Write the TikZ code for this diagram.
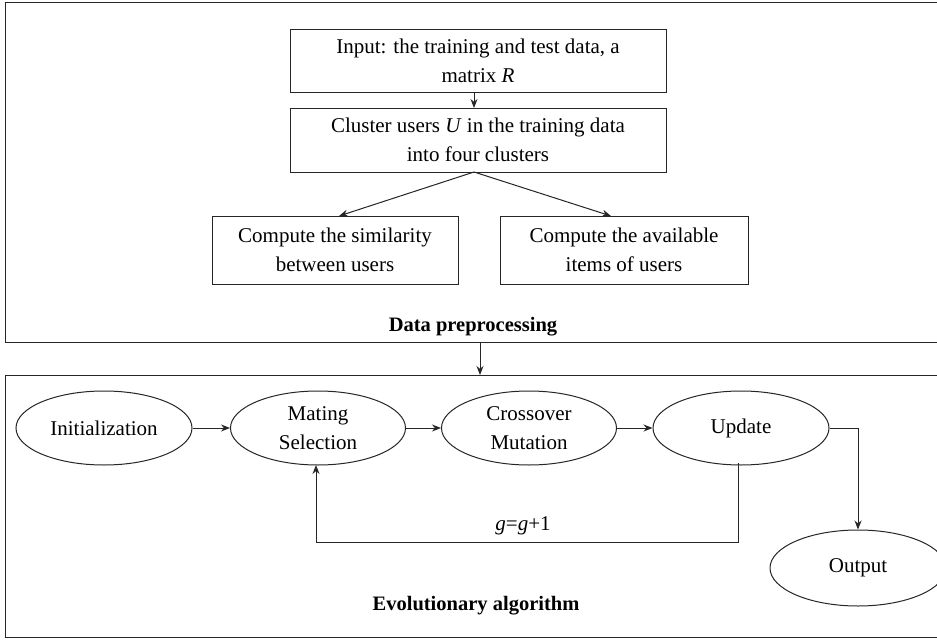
\documentclass[tikz,border=0pt]{standalone}
\usepackage{fontspec}
\setmainfont{Liberation Serif}
\usetikzlibrary{shapes.geometric,arrows.meta}
\begin{document}
\begin{tikzpicture}[x=1pt,y=-1pt,line width=1pt,color=black!85,text=black,
  txt/.style={font=\fontsize{21}{29}\selectfont,align=center,inner sep=0pt},
  pbox/.style={draw,rectangle,txt,inner sep=0pt},
  ell/.style={draw,ellipse,txt,inner sep=0pt},
  arr/.style={-{Stealth[length=9pt,width=7pt]}},
  ttl/.style={font=\fontsize{20.5}{24}\selectfont\bfseries,inner sep=0pt}]
\useasboundingbox (0,0) rectangle (937,642);
\fill[white] (0,0) rectangle (937,642);
\clip (0,0) rectangle (937,642);
% containers
\draw (5,3) rectangle (950,342);
\draw (5,375) rectangle (950,637);
\coordinate (topb) at (480,342);
\coordinate (botb) at (480,375);
% top boxes
\node[pbox,minimum width=376pt,minimum height=62pt] (inp) at (478,61) {Input: the training and test data, a\\ matrix \textit{R}};
\node[pbox,minimum width=376pt,minimum height=64pt] (clu) at (478,140) {Cluster users \textit{U} in the training data\\ into four clusters};
\node[pbox,minimum width=246pt,minimum height=68pt] (sim) at (335,250) {Compute the similarity\\ between users};
\node[pbox,minimum width=248pt,minimum height=68pt] (ava) at (624,250) {Compute the available\\ items of users};
\node[ttl] (dp) at (473,327) {Data preprocessing};
\coordinate (a1) at (474,92);
\coordinate (a2) at (474,108);
\draw[arr] (a1) -- (a2);
\coordinate (c0) at (474,172);
\coordinate (c1) at (339,216);
\coordinate (c2) at (611,216);
\draw[arr] (c0) -- (c1);
\draw[arr] (c0) -- (c2);
\draw[arr] (topb) -- (botb);
% bottom
\node[ell,minimum width=176pt,minimum height=74pt] (ini) at (104,428) {Initialization};
\node[ell,minimum width=175pt,minimum height=74pt] (mat) at (318,428) {Mating\\ Selection};
\node[ell,minimum width=175pt,minimum height=74pt] (cro) at (529,428) {Crossover\\ Mutation};
\node[ell,minimum width=176pt,minimum height=74pt] (upd) at (741,428) {Update};
\node[ell,minimum width=176pt,minimum height=76pt] (out) at (858,568) {Output};
\node[ttl] (ea) at (476,606) {Evolutionary algorithm};
\draw[arr] (ini) -- (mat);
\draw[arr] (mat) -- (cro);
\draw[arr] (cro) -- (upd);
\draw[arr] (upd.east) -| (out.north);
\coordinate (fb0) at (738,463);
\coordinate (fb1) at (738,542);
\coordinate (fb2) at (316,542);
\coordinate (fb3) at (316,465);
\draw[arr] (fb0) -- (fb1) -- (fb2) -- (fb3);
\node[txt] (gg) at (523,526) {\textit{g}=\textit{g}+1};
\end{tikzpicture}
\end{document}
